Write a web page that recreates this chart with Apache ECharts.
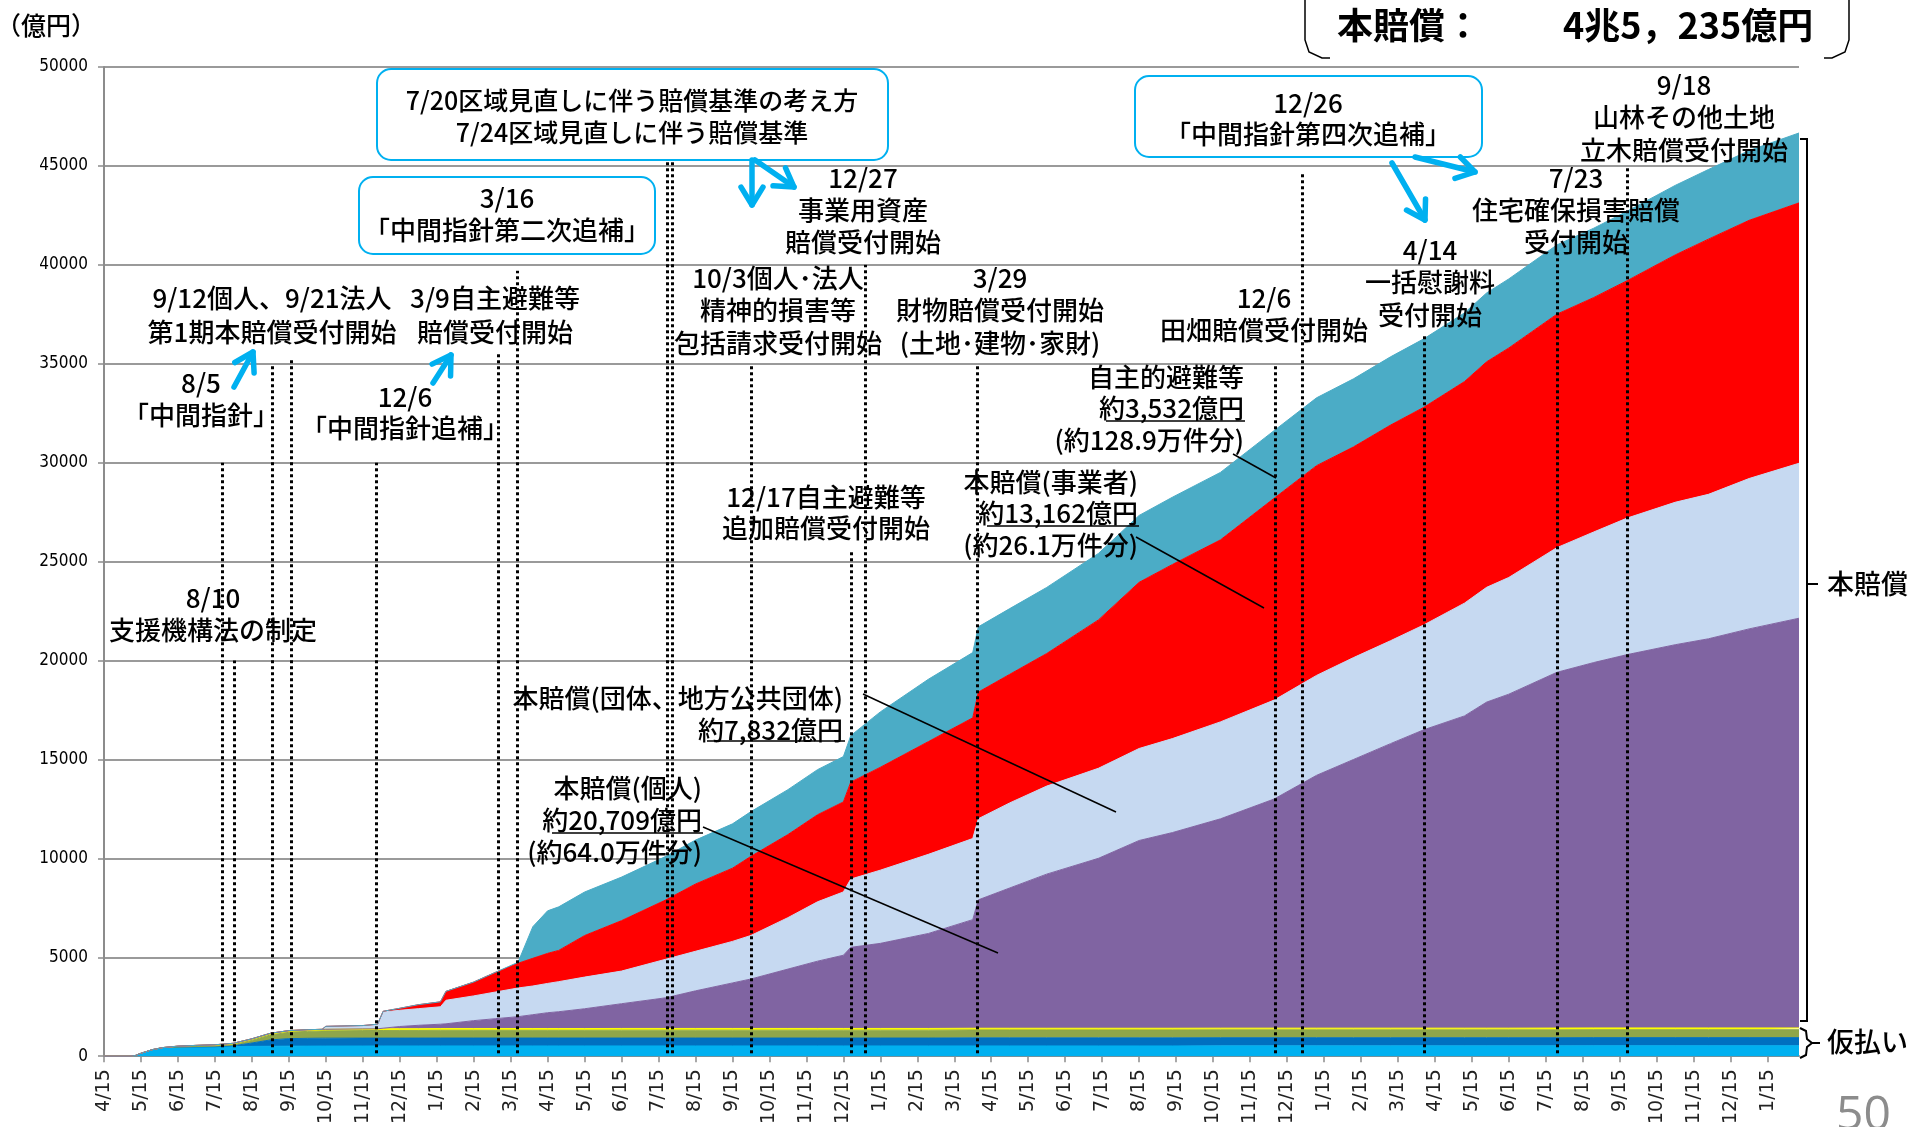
<!DOCTYPE html>
<html>
<head>
<meta charset="utf-8">
<title>賠償金の支払い状況</title>
<script src="https://cdn.jsdelivr.net/npm/echarts@6.0.0/dist/echarts.min.js"></script>
<style>
  html, body { margin: 0; padding: 0; background: #fff; }
  #chart { width: 1915px; height: 1127px; }
</style>
</head>
<body>
<div id="chart"></div>
<script>
// x軸ラベル（4/15 起点、1か月ごと）
const tickLabels = [
  "4/15", "5/15", "6/15", "7/15", "8/15", "9/15", "10/15", "11/15", "12/15", "1/15", "2/15", "3/15",
  "4/15", "5/15", "6/15", "7/15", "8/15", "9/15", "10/15", "11/15", "12/15", "1/15", "2/15", "3/15",
  "4/15", "5/15", "6/15", "7/15", "8/15", "9/15", "10/15", "11/15", "12/15", "1/15", "2/15", "3/15",
  "4/15", "5/15", "6/15", "7/15", "8/15", "9/15", "10/15", "11/15", "12/15", "1/15",
];

// 時点（4/15 からの月数）
const months = [
  0, 0.7, 0.85, 1.0, 1.3, 1.6, 2.0, 2.5, 3.0, 3.5, 4.0, 4.5, 5.0, 5.5, 5.9, 6.0,
  7.0, 7.4, 7.55, 8.0, 8.5, 9.1, 9.25, 10.0, 10.6, 11.2, 11.6, 12.0, 12.3, 13.0, 14.0, 15.2,
  16.0, 17.0, 17.5, 18.5, 19.3, 20.0, 20.2, 21.0, 22.3, 23.5, 23.65, 24.5, 25.5, 26.9, 28.0, 28.9,
  30.2, 31.65, 32.8, 33.8, 34.8, 35.7, 36.8, 37.4, 38.0, 39.3, 40.3, 41.2, 42.5, 43.4, 44.5, 45.85,
];

// 仮払い（億円）
const karibarai1 = [
  0, 0, 40, 150, 330, 440, 460, 470, 480, 490, 500, 505, 510, 512, 515, 515,
  517, 518, 518, 518, 519, 520, 520, 520, 520, 520, 520, 520, 520, 520, 520, 520,
  520, 520, 520, 520, 520, 520, 520, 520, 520, 520, 520, 520, 520, 520, 520, 520,
  525, 525, 525, 525, 525, 525, 525, 525, 525, 525, 530, 530, 530, 530, 530, 530,
];
const karibarai2 = [
  0, 0, 0, 0, 0, 0, 0, 0, 0, 40, 170, 320, 380, 395, 400, 400,
  400, 400, 400, 400, 400, 400, 400, 400, 400, 400, 400, 400, 400, 400, 400, 400,
  400, 400, 400, 400, 400, 400, 400, 400, 400, 410, 410, 410, 410, 410, 410, 410,
  410, 410, 410, 410, 410, 410, 410, 410, 410, 410, 410, 410, 410, 410, 410, 410,
];
const karibarai3 = [
  0, 0, 0, 0, 0, 0, 10, 20, 30, 50, 130, 250, 320, 350, 360, 362,
  380, 385, 385, 390, 390, 395, 395, 395, 395, 395, 395, 395, 395, 395, 400, 400,
  400, 400, 400, 400, 400, 400, 400, 400, 400, 400, 400, 400, 400, 400, 400, 400,
  400, 400, 400, 400, 400, 400, 400, 400, 400, 400, 400, 400, 400, 400, 400, 400,
];
const karibarai4 = [
  0, 0, 0, 0, 0, 0, 40, 60, 70, 75, 80, 85, 85, 85, 85, 85,
  85, 85, 85, 85, 85, 85, 85, 85, 85, 85, 85, 85, 85, 85, 85, 85,
  85, 85, 85, 85, 85, 85, 85, 85, 85, 85, 85, 85, 85, 85, 85, 85,
  85, 85, 85, 85, 85, 85, 85, 85, 85, 90, 90, 90, 90, 90, 90, 90,
];

// 本賠償（億円）
const kojin = [
  0, 0, 0, 0, 0, 0, 0, 0, 0, 0, 0, 0, 0, 0, 0, 0,
  0, 0, 30, 110, 170, 220, 240, 400, 500, 600, 700, 800, 850, 1000, 1250, 1550,
  1900, 2300, 2500, 3000, 3400, 3700, 4100, 4300, 4800, 5490, 6490, 7090, 7790, 8590, 9490, 9890,
  10580, 11580, 12780, 13580, 14380, 15080, 15780, 16480, 16880, 17980, 18470, 18870, 19370, 19670, 20170, 20709,
];
const dantai = [
  0, 0, 0, 0, 0, 0, 0, 0, 0, 0, 0, 0, 0, 0, 0, 150,
  170, 200, 820, 820, 840, 880, 1190, 1250, 1350, 1450, 1450, 1480, 1520, 1600, 1650, 1950,
  2000, 2100, 2200, 2600, 3000, 3200, 3450, 3700, 4000, 4100, 4100, 4300, 4450, 4550, 4650, 4750,
  4900, 5000, 5050, 5150, 5200, 5300, 5700, 5800, 5900, 6300, 6600, 6900, 7200, 7300, 7600, 7832,
];
const jigyousha = [
  0, 0, 0, 0, 0, 0, 0, 0, 0, 0, 0, 0, 0, 0, 0, 0,
  0, 30, 35, 100, 200, 250, 450, 700, 1000, 1250, 1400, 1520, 1580, 2100, 2550, 3000,
  3400, 3700, 4000, 4200, 4400, 4550, 4900, 5200, 5700, 6100, 6400, 6500, 6700, 7500, 8400, 8800,
  9200, 10200, 10600, 10650, 10900, 11000, 11200, 11400, 11600, 11800, 11850, 12000, 12500, 12900, 13050, 13162,
];
const jishuHinan = [
  0, 0, 0, 0, 0, 0, 0, 0, 0, 0, 0, 0, 0, 0, 0, 0,
  0, 0, 0, 0, 0, 0, 0, 0, 0, 50, 1600, 2150, 2200, 2200, 2200, 2200,
  2220, 2240, 2260, 2270, 2280, 2290, 2350, 2800, 3150, 3300, 3300, 3320, 3340, 3360, 3380, 3400,
  3410, 3420, 3430, 3440, 3450, 3460, 3470, 3480, 3490, 3500, 3505, 3510, 3515, 3520, 3525, 3532,
];

// 出来事の日付（月数）と点線の上端（億円）
const eventX = [3.2, 3.53, 4.55, 5.07, 7.36, 10.66, 11.18, 15.23, 15.36, 17.5, 20.2, 20.58, 23.61, 31.69, 32.42, 35.72, 39.31, 41.2];
const eventTop = [30000, 20000, 35000, 35300, 30000, 35500, 39700, 45300, 45300, 35000, 25500, 40000, 35000, 35000, 44700, 36500, 40700, 45000];

const xMax = 45.85;
const jp = '"Noto Sans CJK JP", sans-serif';

function areaSeries(name, values, color) {
  return {
    name: name,
    type: "line",
    xAxisIndex: 1, // 積み上げを y 方向にするため time 軸に載せる
    stack: "all",
    symbol: "none",
    silent: true,
    lineStyle: { width: 1, color: color },
    areaStyle: { color: color, opacity: 1 },
    data: months.map((m, i) => [m, values[i]]),
  };
}

function text(x, y, str, opt) {
  opt = opt || {};
  const size = opt.size || 26;
  const lh = opt.lh || 32;
  const align = opt.align || "center";
  return {
    type: "text",
    x: x,
    y: y - lh / 2,
    z: 100,
    style: {
      text: str,
      font: (opt.bold ? "bold " : "500 ") + size + "px " + jp,
      fill: opt.color || "#000",
      align: align,
      textAlign: align,
      verticalAlign: "top",
      textVerticalAlign: "top",
      lineHeight: lh,
    },
  };
}

function seg(x1, y1, x2, y2, width) {
  return {
    type: "line",
    z: 100,
    shape: { x1: x1, y1: y1, x2: x2, y2: y2 },
    style: { stroke: "#000", lineWidth: width || 1.5 },
  };
}

function arrow(x1, y1, x2, y2) {
  const a = Math.atan2(y2 - y1, x2 - x1);
  const L = 21, w = 0.55;
  const st = { stroke: "#00B0F0", lineWidth: 5.5, lineCap: "round", lineJoin: "round", fill: null };
  return [
    { type: "line", z: 100, shape: { x1: x1, y1: y1, x2: x2, y2: y2 }, style: st },
    {
      type: "polyline",
      z: 100,
      shape: {
        points: [
          [x2 - L * Math.cos(a - w), y2 - L * Math.sin(a - w)],
          [x2, y2],
          [x2 - L * Math.cos(a + w), y2 - L * Math.sin(a + w)],
        ],
      },
      style: st,
    },
  ];
}

function box(x, y, w, h) {
  return {
    type: "rect",
    z: 99,
    shape: { x: x, y: y, width: w, height: h, r: 14 },
    style: { fill: "#fff", stroke: "#00B0F0", lineWidth: 2 },
  };
}

const graphics = [
  text(-4, 25, "（億円）", { size: 25, align: "left" }),
  // 本賠償 合計
  {
    type: "polyline", z: 100,
    shape: { points: [[1305, 0], [1305, 40], [1309, 52], [1322, 58], [1330, 58]] },
    style: { stroke: "#000", lineWidth: 1.5, fill: null },
  },
  {
    type: "polyline", z: 100,
    shape: { points: [[1849, 0], [1849, 40], [1845, 52], [1832, 58], [1824, 58]] },
    style: { stroke: "#000", lineWidth: 1.5, fill: null },
  },
  text(1337, 25, "本賠償：", { size: 36, bold: true, align: "left", lh: 40 }),
  text(1563, 25, "4兆5，235億円", { size: 36, bold: true, align: "left", lh: 40 }),

  // 青枠
  box(377, 69, 511, 91),
  text(632, 100, "7/20区域見直しに伴う賠償基準の考え方\n7/24区域見直しに伴う賠償基準", { size: 25 }),
  box(359, 177, 296, 77),
  text(507, 198, "3/16\n「中間指針第二次追補」"),
  box(1135, 76, 347, 81),
  text(1308, 103, "12/26\n「中間指針第四次追補」", { lh: 31 }),
  ...arrow(752, 160, 752, 205),
  ...arrow(755, 160, 794, 187),
  ...arrow(1415, 157, 1475, 172),
  ...arrow(1392, 163, 1425, 220),
  ...arrow(234, 387, 253, 352),
  ...arrow(433, 383, 451, 355),

  // 出来事
  text(272, 298, "9/12個人、9/21法人\n第1期本賠償受付開始", { lh: 34 }),
  text(495, 298, "3/9自主避難等\n賠償受付開始", { lh: 34 }),
  text(201, 383, "8/5\n「中間指針」"),
  text(405, 397, "12/6\n「中間指針追補」", { lh: 31 }),
  text(213, 598, "8/10\n支援機構法の制定"),
  text(863, 178, "12/27\n事業用資産\n賠償受付開始"),
  text(778, 278, "10/3個人･法人\n精神的損害等\n包括請求受付開始", { lh: 32.5 }),
  text(1000, 278, "3/29\n財物賠償受付開始\n(土地･建物･家財)", { lh: 32.5 }),
  text(1264, 298, "12/6\n田畑賠償受付開始"),
  text(1430, 250, "4/14\n一括慰謝料\n受付開始", { lh: 32.5 }),
  text(1576, 178, "7/23\n住宅確保損害賠償\n受付開始"),
  text(1684, 85, "9/18\n山林その他土地\n立木賠償受付開始", { lh: 32.5 }),
  text(826, 497, "12/17自主避難等\n追加賠償受付開始", { lh: 31 }),

  // 内訳
  text(1244, 377, "自主的避難等\n約3,532億円\n(約128.9万件分)", { align: "right", lh: 31.5 }),
  seg(1106, 421, 1245, 421),
  seg(1233, 454, 1276, 478),
  text(1138, 482, "本賠償(事業者)\n約13,162億円\n(約26.1万件分)", { align: "right", lh: 31.5 }),
  seg(987, 526, 1139, 526),
  seg(1136, 537, 1264, 608),
  text(843, 698, "本賠償(団体、地方公共団体)\n約7,832億円", { align: "right" }),
  seg(707, 741, 845, 741),
  seg(863, 694, 1116, 812),
  text(702, 788, "本賠償(個人)\n約20,709億円\n(約64.0万件分)", { align: "right" }),
  seg(552, 833, 703, 833),
  seg(703, 827, 998, 953),

  // 右側の括弧
  {
    type: "polyline", z: 100,
    shape: { points: [[1800, 139], [1807, 139], [1807, 1021], [1800, 1021]] },
    style: { stroke: "#000", lineWidth: 2, fill: null },
  },
  seg(1807, 584, 1818, 584, 2),
  text(1827, 584, "本賠償", { size: 27, align: "left" }),
  {
    type: "polyline", z: 100,
    shape: { points: [[1800, 1028], [1806, 1031], [1807, 1039], [1812, 1043], [1807, 1047], [1806, 1055], [1800, 1058]] },
    style: { stroke: "#000", lineWidth: 2, fill: null },
  },
  seg(1812, 1043, 1820, 1043, 2),
  text(1827, 1042, "仮払い", { size: 27, align: "left" }),

  {
    type: "text", x: 1836, y: 1092, z: 100,
    style: { text: "50", font: '48px "Open Sans", sans-serif', fill: "#8c8c8c" },
  },
];

const myChart = echarts.init(document.getElementById("chart"));
let option = {
  animation: false,
  backgroundColor: "#fff",
  grid: { left: 104, right: 116, top: 67, bottom: 69 },
  xAxis: [
    {
      type: "value",
      min: 0,
      max: xMax,
      splitLine: { show: false },
      axisLine: { lineStyle: { color: "#8c8c8c", width: 2 } },
      axisTick: {
        customValues: tickLabels.map((s, i) => i),
        length: 6,
        lineStyle: { color: "#8c8c8c", width: 1.5 },
      },
      axisLabel: {
        customValues: tickLabels.map((s, i) => i),
        formatter: (v) => tickLabels[Math.round(v)] || "",
        rotate: 90,
        margin: 13,
        fontFamily: "DejaVu Sans",
        fontSize: 19,
        color: "#222",
      },
    },
    {
      // 面グラフ用（非表示）
      type: "time",
      min: 0,
      max: xMax,
      show: false,
    },
  ],
  yAxis: {
    type: "value",
    min: 0,
    max: 50000,
    interval: 5000,
    axisLine: { show: true, lineStyle: { color: "#8c8c8c", width: 2 } },
    axisTick: { show: true, length: 6, lineStyle: { color: "#8c8c8c", width: 1.5 } },
    splitLine: { lineStyle: { color: "#9a9a9a", width: 2 } },
    axisLabel: {
      formatter: (v) => String(v),
      margin: 16,
      fontFamily: '"DejaVu Sans Condensed", sans-serif',
      fontSize: 17,
      color: "#000",
    },
  },
  series: [
    areaSeries("仮払い1", karibarai1, "#00B0F0"),
    areaSeries("仮払い2", karibarai2, "#0070C0"),
    areaSeries("仮払い3", karibarai3, "#8FA64A"),
    areaSeries("仮払い4", karibarai4, "#FFFF00"),
    areaSeries("本賠償（個人）", kojin, "#8064A2"),
    areaSeries("本賠償（団体、地方公共団体）", dantai, "#C6D9F1"),
    areaSeries("本賠償（事業者）", jigyousha, "#FF0000"),
    areaSeries("自主的避難等", jishuHinan, "#4BACC6"),
    {
      name: "events",
      type: "line",
      data: [],
      silent: true,
      z: 5,
      markLine: {
        silent: true,
        animation: false,
        symbol: ["none", "none"],
        label: { show: false },
        lineStyle: { color: "#000", width: 3, type: [3, 3] },
        data: eventX.map((x, i) => [{ coord: [x, 150] }, { coord: [x, eventTop[i]] }]),
      },
    },
  ],
  graphic: { elements: graphics },
};
myChart.setOption(option);
</script>
</body>
</html>
